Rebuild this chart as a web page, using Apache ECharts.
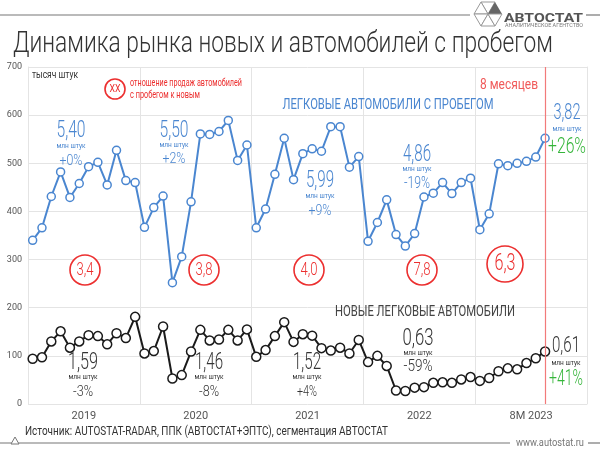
<!DOCTYPE html>
<html><head><meta charset="utf-8">
<script src="https://cdn.jsdelivr.net/npm/echarts@6/dist/echarts.min.js"></script>
<style>html,body{margin:0;padding:0;background:#fff}#c{width:600px;height:449px}</style>
</head><body><div id="c"></div>
<script>
// ---- data ----
const yearLabels = ['2019', '2020', '2021', '2022', '8M 2023'];
const monthsPerYear = ['01','02','03','04','05','06','07','08','09','10','11','12'];
const yTicks = [0, 100, 200, 300, 400, 500, 600, 700];
// used passenger cars, thousand units
const used2019 = [340, 366, 431, 482, 429, 458, 493, 502, 455, 527, 464, 460];
const used2020 = [367, 408, 432, 252, 306, 420, 561, 560, 566, 589, 506, 538];
const used2021 = [366, 405, 477, 552, 466, 520, 530, 525, 576, 576, 492, 514];
const used2022 = [338, 377, 424, 352, 328, 354, 430, 438, 460, 437, 460, 469];
const used2023 = [362, 395, 499, 495, 500, 504, 513, 552];
// new passenger cars, thousand units
const new2019 = [94, 97, 130, 151, 117, 130, 143, 141, 124, 147, 137, 181];
const new2020 = [105, 110, 161, 53, 60, 109, 154, 132, 134, 154, 132, 155];
const new2021 = [98, 112, 141, 170, 129, 145, 142, 116, 111, 117, 105, 133];
const new2022 = [87, 100, 79, 28, 27, 34, 35, 44, 45, 44, 51, 56];
const new2023 = [48, 54, 68, 74, 72, 85, 95, 109];

const usedAll = [].concat(used2019, used2020, used2021, used2022, used2023);
const newAll = [].concat(new2019, new2020, new2021, new2022, new2023);
const monthCats = [];
['2019','2020','2021','2022','2023'].forEach(y => monthsPerYear.forEach(m => monthCats.push(y + '-' + m)));
const lastMonthIndex = usedAll.length - 1;

const FONT = 'Roboto,"DejaVu Sans",sans-serif';
const BLUE = '#4a86d0', RED = '#ec2f2f', GREEN = '#35b53a', DARK = '#333', MARK = '#f27a7a';

const mctx = document.createElement('canvas').getContext('2d');
function measure(s, font) { mctx.font = font; return mctx.measureText(s).width; }

// text squeezed horizontally to a target width (condensed look)
function txt(x, y, s, size, color, align, w, weight) {
  const font = (weight ? weight + ' ' : '') + size + 'px ' + FONT;
  const sx = w ? w / measure(s, font) : 0.8;
  return { type: 'text', x: x, y: y, z: 100, scaleX: sx,
    style: { text: s, fill: color, font: font, align: align || 'center', verticalAlign: 'middle' } };
}
function ring(cx, cy, r) {
  return { type: 'circle', z: 99, shape: { cx: cx, cy: cy, r: r }, style: { fill: '#fff', stroke: RED, lineWidth: 1.6 } };
}
function block(x, y, big, bigSize, bigW, pct, pctSize, pctW, color, pctColor, dy1, dy2) {
  return [
    txt(x, y, big, bigSize, color, 'center', bigW, 300),
    txt(x, y + dy1, 'млн штук', 7.5, color, 'center', 29),
    txt(x, y + dy2, pct, pctSize, pctColor || color, 'center', pctW, 300)
  ];
}

const graphics = [
  // header line & logo
  { type: 'line', shape: { x1: 0, y1: 15, x2: 470, y2: 15 }, style: { stroke: '#777', lineWidth: 1.2 } },
  { type: 'line', shape: { x1: 586, y1: 15, x2: 600, y2: 15 }, style: { stroke: '#777', lineWidth: 1.2 } },
  { type: 'polygon', shape: { points: [[481,2],[495,2],[488,14]] }, style: { fill: '#fff', stroke: '#999', lineWidth: 1 } },
  { type: 'polygon', shape: { points: [[495,2],[502,14],[488,14]] }, style: { fill: '#666' } },
  { type: 'polygon', shape: { points: [[474,14],[481,2],[488,14]] }, style: { fill: '#fff', stroke: '#999', lineWidth: 1 } },
  { type: 'polygon', shape: { points: [[474,14],[488,14],[481,26]] }, style: { fill: '#fff', stroke: '#999', lineWidth: 1 } },
  { type: 'polygon', shape: { points: [[481,26],[495,26],[488,14]] }, style: { fill: '#fff', stroke: '#999', lineWidth: 1 } },
  { type: 'polygon', shape: { points: [[488,14],[502,14],[495,26]] }, style: { fill: '#fff', stroke: '#999', lineWidth: 1 } },
  txt(504, 19, 'АВТОСТАТ', 12, '#555', 'left', 79, 'bold'),
  txt(505, 26, 'АНАЛИТИЧЕСКОЕ АГЕНТСТВО', 4.5, '#777', 'left', 78),
  // title
  txt(13, 45, 'Динамика рынка новых и автомобилей с пробегом', 29, '#333', 'left', 540, 300),
  // footer
  { type: 'line', shape: { x1: 0, y1: 443, x2: 510, y2: 443 }, style: { stroke: '#777', lineWidth: 1.2 } },
  { type: 'line', shape: { x1: 588, y1: 443, x2: 600, y2: 443 }, style: { stroke: '#777', lineWidth: 1.2 } },
  { type: 'polygon', shape: { points: [[15,437],[11,444],[19,444]] }, style: { fill: '#fff', stroke: '#777', lineWidth: 1 } },
  txt(25, 432, 'Источник: AUTOSTAT-RADAR, ППК (АВТОСТАТ+ЭПТС), сегментация АВТОСТАТ', 13, DARK, 'left', 363),
  txt(550, 443, 'www.autostat.ru', 10, '#777', 'center', 68),
  // notes
  txt(32, 75, 'тысяч штук', 10, DARK, 'left', 46),
  ring(115, 89, 10), txt(115, 89, 'XX', 10, RED, 'center', 11),
  txt(130, 83, 'отношение продаж автомобилей', 11.5, RED, 'left', 112),
  txt(130, 95, 'с пробегом к новым', 11.5, RED, 'left', 70),
  txt(509, 85, '8 месяцев', 15, '#f05a5a', 'center', 58),
  txt(388, 105, 'ЛЕГКОВЫЕ АВТОМОБИЛИ С ПРОБЕГОМ', 15, BLUE, 'center', 211),
  txt(425, 312, 'НОВЫЕ ЛЕГКОВЫЕ АВТОМОБИЛИ', 15, '#444', 'center', 180),
  // ratio circles
  ring(85, 270, 15), txt(85, 270, '3,4', 19, RED, 'center', 17, 300),
  ring(204, 270, 15), txt(204, 270, '3,8', 19, RED, 'center', 17, 300),
  ring(309, 270, 15), txt(309, 270, '4,0', 19, RED, 'center', 17, 300),
  ring(422, 270, 15), txt(422, 270, '7,8', 19, RED, 'center', 17, 300),
  ring(505, 264, 18), txt(505, 264, '6,3', 24, RED, 'center', 21, 300)
].concat(
  block(71, 131, '5,40', 24, 29, '+0%', 15, 23, BLUE, null, 15, 30),
  block(174, 131, '5,50', 24, 29, '+2%', 15, 23, BLUE, null, 14, 28),
  block(320, 181, '5,99', 24, 28, '+9%', 15, 23, BLUE, null, 15, 30),
  block(417, 155, '4,86', 23, 28, '-19%', 16, 26, BLUE, null, 14, 29),
  block(567, 113, '3,82', 22, 27, '+26%', 22, 38, BLUE, GREEN, 16, 34),
  block(83, 363, '1,59', 24, 30, '-3%', 15, 20, DARK, null, 14, 29),
  block(209, 363, '1,46', 24, 28, '-8%', 15, 20, DARK, null, 14, 29),
  block(307, 363, '1,52', 24, 28, '+4%', 15, 20, DARK, null, 14, 29),
  block(418, 339, '0,63', 23, 31, '-59%', 16, 29, DARK, null, 14, 28),
  block(566, 346, '0,61', 22, 28, '+41%', 22, 34, DARK, GREEN, 17, 33)
);

const chart = echarts.init(document.getElementById('c'), null, { renderer: 'canvas' });
chart.setOption({
  animation: false,
  backgroundColor: '#fff',
  grid: { left: 28, right: 13, top: 67, bottom: 45, containLabel: false },
  xAxis: [
    { type: 'category', data: monthCats, boundaryGap: true,
      axisLine: { show: false }, axisTick: { show: false }, axisLabel: { show: false },
      splitLine: { show: true, interval: function (i) { return i % 12 === 0; }, lineStyle: { color: '#e4e4e4', width: 1 } } },
    { type: 'category', data: yearLabels, boundaryGap: true, position: 'bottom',
      axisLine: { show: false }, axisTick: { show: false },
      splitLine: { show: false },
      axisLabel: { color: '#555', fontSize: 11, fontFamily: FONT, margin: 7 } }
  ],
  yAxis: [
    { type: 'value', min: yTicks[0], max: yTicks[yTicks.length - 1], interval: 100,
      axisLine: { show: true, lineStyle: { color: '#e4e4e4' } }, axisTick: { show: false },
      axisLabel: { color: '#555', fontSize: 9, fontFamily: FONT, margin: 6 },
      splitLine: { lineStyle: { color: '#e4e4e4', width: 1 } } },
    { type: 'value', min: yTicks[0], max: yTicks[yTicks.length - 1], interval: 100, position: 'right',
      axisLine: { show: true, lineStyle: { color: '#e4e4e4' } }, axisTick: { show: false },
      axisLabel: { show: false }, splitLine: { show: false } }
  ],
  graphic: graphics,
  series: [
    { type: 'line', xAxisIndex: 0, yAxisIndex: 0, data: usedAll, symbol: 'circle', symbolSize: 8, showSymbol: true, showAllSymbol: true,
      z: 3,
      lineStyle: { color: BLUE, width: 2 }, itemStyle: { color: '#fff', borderColor: BLUE, borderWidth: 1.5 } },
    { type: 'line', xAxisIndex: 0, yAxisIndex: 0, data: newAll, symbol: 'circle', symbolSize: 9, showSymbol: true, showAllSymbol: true,
      z: 3,
      lineStyle: { color: '#1a1a1a', width: 2 }, itemStyle: { color: '#fff', borderColor: '#1a1a1a', borderWidth: 1.5 } },
    { type: 'line', xAxisIndex: 0, yAxisIndex: 0, data: [], z: 2, silent: true,
      markLine: { silent: true, symbol: 'none', animation: false,
        label: { show: false }, emphasis: { disabled: true },
        lineStyle: { color: MARK, width: 1.2, type: 'solid', opacity: 1 },
        data: [{ xAxis: lastMonthIndex, lineStyle: { color: MARK, width: 1.2, type: 'solid' } }] } }
  ]
});
</script></body></html>
